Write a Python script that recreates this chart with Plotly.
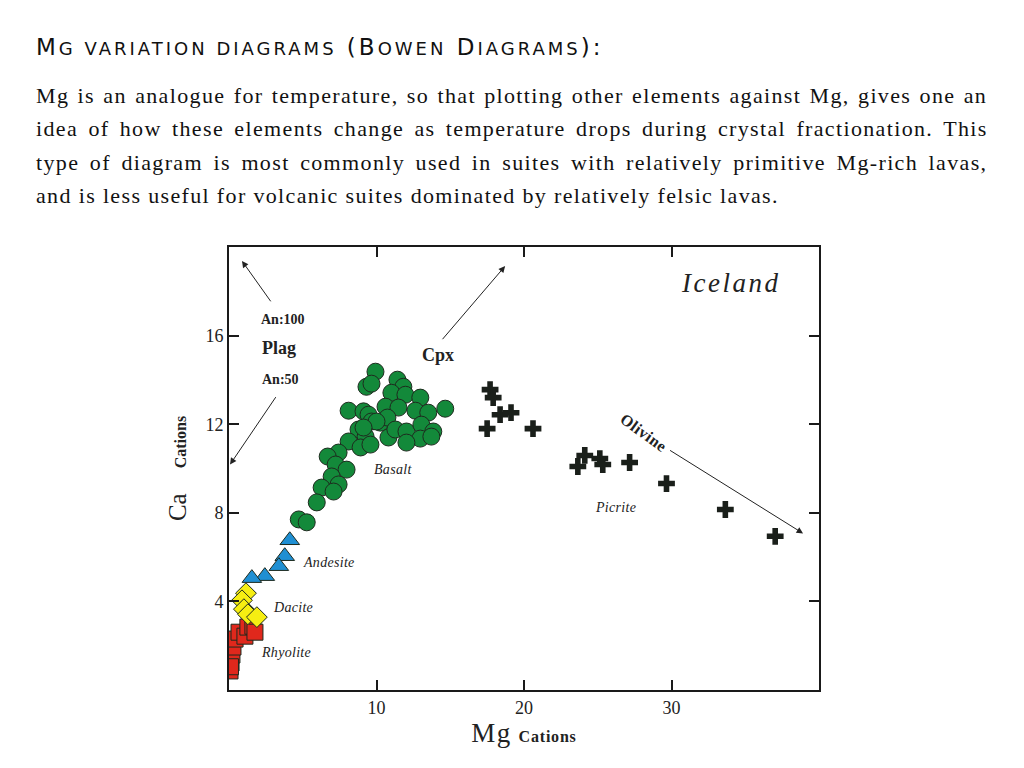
import plotly.graph_objects as go

# ---------------- data ----------------
basalt_mg = [9.93, 9.32, 9.66, 11.42, 11.82, 11.01, 11.96, 12.97, 8.11, 9.12, 9.46, 10.61,
             11.49, 12.64, 13.51, 14.66, 9.66, 10.27, 10.74, 8.78, 9.26, 10.81, 11.28, 12.03,
             13.04, 12.97, 13.85, 13.72, 12.03, 8.11, 8.92, 7.43, 6.69, 7.23, 7.97, 6.96,
             6.28, 7.43, 7.09, 5.95, 4.73, 5.27, 9.59, 10.0, 9.12]
basalt_ca = [14.37, 13.69, 13.83, 14.01, 13.69, 13.42, 13.33, 13.20, 12.61, 12.58, 12.43, 12.79,
             12.75, 12.61, 12.52, 12.70, 12.12, 12.07, 12.30, 11.76, 11.44, 11.40, 11.76, 11.67,
             11.98, 11.35, 11.67, 11.44, 11.17, 11.22, 10.95, 10.72, 10.54, 10.18, 9.95, 9.64,
             9.14, 9.28, 8.96, 8.47, 7.70, 7.57, 11.08, 12.12, 11.85]

andesite_mg = [4.12, 3.78, 3.38, 2.43, 1.55]
andesite_ca = [6.76, 6.04, 5.59, 5.14, 5.05]

dacite_mg = [1.15, 0.88, 1.01, 1.28, 1.89]
dacite_ca = [4.37, 4.05, 3.65, 3.42, 3.29]

rhyolite_mg = [0.07, 0.14, 0.20, 0.27, 0.41, 0.68, 1.08, 1.28, 1.62, 1.76, 0.10]
rhyolite_ca = [0.86, 1.22, 1.58, 1.94, 2.30, 2.61, 2.43, 2.84, 2.88, 2.61, 1.05]

picrite_mg = [17.70, 17.91, 18.38, 19.12, 17.50, 20.61, 24.12, 23.65, 25.14, 25.34, 27.16,
              29.66, 33.65, 37.03]
picrite_ca = [13.56, 13.20, 12.43, 12.52, 11.80, 11.80, 10.59, 10.09, 10.45, 10.18, 10.27,
              9.32, 8.15, 6.94]

x_ticks = [10, 20, 30]
y_ticks = [4, 8, 12, 16]

SMALL = "font-size:18px"
heading = (f"<span style='letter-spacing:3px'>M<span style='{SMALL}'>G VARIATION DIAGRAMS</span> (B"
           f"<span style='{SMALL}'>OWEN</span> D<span style='{SMALL}'>IAGRAMS</span>):</span>")
para_lines = [
    "Mg is an analogue for temperature, so that plotting other elements against Mg, gives one an",
    "idea of how these elements change as temperature drops during crystal fractionation. This",
    "type of diagram is most commonly used in suites with relatively primitive Mg-rich lavas,",
    "and is less useful for volcanic suites dominated by relatively felsic lavas.",
]
para_y_px = [96, 129, 162, 196]
para_word_spacing = [1.5, 3.5, 3.7, 0]
para_letter_spacing = 1.35

# plot area in window pixels; the page body adds an 8px offset
OFF = 8
L, R, T, B = 229, 819, 247, 690
W, H = 1024 - 2 * OFF, 768 - 2 * OFF

def px_x(p):
    return (p - L) / (R - L)

def px_y(p):
    return (B - p) / (B - T)

SERIF = "Liberation Serif"
OUT = "#1e2a1e"

fig = go.Figure()
fig.add_trace(go.Scatter(x=rhyolite_mg, y=rhyolite_ca, mode="markers", name="Rhyolite",
                         marker=dict(symbol="square", size=16, color="#e0281c",
                                     line=dict(color=OUT, width=1))))
fig.add_trace(go.Scatter(x=dacite_mg, y=dacite_ca, mode="markers", name="Dacite",
                         marker=dict(symbol="diamond", size=16, color="#f6ee12",
                                     line=dict(color=OUT, width=1))))
fig.add_trace(go.Scatter(x=andesite_mg, y=andesite_ca, mode="markers", name="Andesite",
                         marker=dict(symbol="triangle-up", size=17, color="#1f8fd3",
                                     line=dict(color=OUT, width=1))))
fig.add_trace(go.Scatter(x=basalt_mg, y=basalt_ca, mode="markers", name="Basalt",
                         marker=dict(symbol="circle", size=17, color="#13893a",
                                     line=dict(color=OUT, width=1))))
fig.add_trace(go.Scatter(x=picrite_mg, y=picrite_ca, mode="markers", name="Picrite",
                         marker=dict(symbol="cross", size=14, color="#1a1f1a",
                                     line=dict(width=0))))

ann = []
ann.append(dict(text=heading, xref="paper", yref="paper", x=px_x(34), y=px_y(47),
                xanchor="left", yanchor="middle", showarrow=False,
                font=dict(family="DejaVu Sans", size=23, color="#111")))
for line, yp, ws in zip(para_lines, para_y_px, para_word_spacing):
    css = f"letter-spacing:{para_letter_spacing}px;word-spacing:{ws}px"
    txt = f'<span style="{css}">{line}</span>'
    ann.append(dict(text=txt, xref="paper", yref="paper",
                    x=px_x(34), y=px_y(yp), xanchor="left", yanchor="middle", showarrow=False,
                    font=dict(family=SERIF, size=22, color="#111")))

# arrows (head x,y ; tail ax,ay) in data units
arrows = [
    (0.88, 19.37, 2.9, 17.48),
    (0.07, 10.18, 3.24, 13.29),
    (18.72, 19.14, 14.39, 15.77),
    (38.92, 7.07, 29.8, 10.86),
]
for hx, hy, tx, ty in arrows:
    ann.append(dict(x=hx, y=hy, ax=tx, ay=ty, xref="x", yref="y", axref="x", ayref="y",
                    text="", showarrow=True, arrowhead=2, arrowsize=1.3, arrowwidth=1,
                    arrowcolor="#222"))

# text, x, y, size, bold, italic, angle, letter-spacing
labels = [
    ("An:100", 3.65, 16.71, 14, True, False, 0, 0),
    ("Plag", 3.38, 15.45, 18, True, False, 0, 0),
    ("An:50", 3.51, 14.01, 14, True, False, 0, 0),
    ("Cpx", 14.2, 15.14, 18, True, False, 0, 0),
    ("Olivine", 28.1, 11.62, 16, True, False, 36, 0.5),
    ("Basalt", 11.15, 9.95, 14, False, True, 0, 0.3),
    ("Andesite", 6.76, 5.77, 14, False, True, 0, 0.3),
    ("Dacite", 4.32, 3.74, 14, False, True, 0, 0.3),
    ("Rhyolite", 3.85, 1.71, 14, False, True, 0, 0.3),
    ("Picrite", 26.2, 8.24, 14, False, True, 0, 0.3),
    ("Iceland", 34.0, 18.38, 27, False, True, 0, 2.5),
]
for t, x, y, s, b, i, ang, ls in labels:
    txt = t
    if ls:
        txt = f'<span style="letter-spacing:{ls}px">{txt}</span>'
    if b:
        txt = f"<b>{txt}</b>"
    if i:
        txt = f"<i>{txt}</i>"
    ann.append(dict(text=txt, x=x, y=y, xref="x", yref="y", showarrow=False, textangle=ang,
                    xanchor="center", yanchor="middle",
                    font=dict(family=SERIF, size=s, color="#222")))

axis_common = dict(showline=True, linecolor="#1a1a1a", linewidth=2, mirror="ticks",
                   ticks="inside", ticklen=10, tickwidth=2, tickcolor="#1a1a1a",
                   showgrid=False, zeroline=False,
                   tickfont=dict(family=SERIF, size=18, color="#222"))

NB = "\u00a0"
fig.update_layout(
    width=W, height=H,
    margin=dict(l=L - OFF, r=W - (R - OFF), t=T - OFF, b=H - (B - OFF)),
    paper_bgcolor="white", plot_bgcolor="white",
    showlegend=False,
    annotations=ann,
    xaxis=dict(range=[0, 40], tickvals=x_ticks, **axis_common,
               title=dict(text="<span style='letter-spacing:1.5px'>Mg</span> "
                               "<b><span style='font-size:16px;letter-spacing:0.8px'>Cations</span></b>",
                          font=dict(family=SERIF, size=27, color="#222"), standoff=2)),
    yaxis=dict(range=[0, 20], tickvals=y_ticks, **axis_common,
               title=dict(text=f"Ca{NB}{NB}{NB} <b><span style='font-size:16px'>Cations</span></b>",
                          font=dict(family=SERIF, size=25, color="#222"), standoff=12)),
)

fig.write_html("out.html")
